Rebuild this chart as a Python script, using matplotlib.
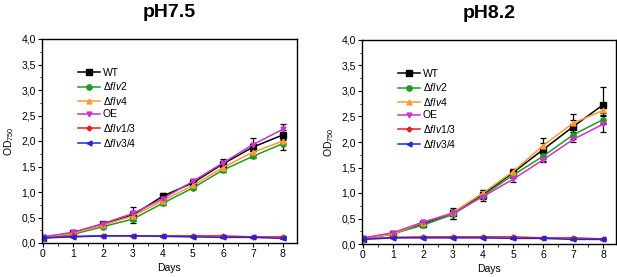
import matplotlib
matplotlib.use('Agg')
import matplotlib.pyplot as plt
from matplotlib.ticker import MultipleLocator, FuncFormatter

plt.rcParams['font.family'] = ['Liberation Sans', 'DejaVu Sans']
plt.rcParams['mathtext.fontset'] = 'custom'
plt.rcParams['mathtext.rm'] = 'Liberation Sans'
plt.rcParams['mathtext.it'] = 'Liberation Sans:italic'

days = [0, 1, 2, 3, 4, 5, 6, 7, 8]
labels = ['WT', r'$\Delta\mathit{flv2}$', r'$\Delta\mathit{flv4}$', 'OE',
          r'$\Delta\mathit{flv1/3}$', r'$\Delta\mathit{flv3/4}$']

# pH 7.5
ph75_wt = [0.10, 0.20, 0.37, 0.55, 0.92, 1.18, 1.55, 1.88, 2.12]
ph75_flv2 = [0.09, 0.17, 0.32, 0.47, 0.78, 1.08, 1.43, 1.70, 1.95]
ph75_flv4 = [0.10, 0.19, 0.35, 0.53, 0.83, 1.13, 1.48, 1.78, 2.00]
ph75_oe = [0.12, 0.21, 0.38, 0.58, 0.87, 1.21, 1.57, 1.93, 2.23]
ph75_flv13 = [0.10, 0.13, 0.14, 0.14, 0.14, 0.14, 0.14, 0.12, 0.12]
ph75_flv34 = [0.10, 0.12, 0.14, 0.14, 0.13, 0.12, 0.11, 0.11, 0.09]
ph75_err = [
    [0.02, 0.04, 0.04, 0.15, 0.06, 0.04, 0.05, 0.06, 0.10],
    [0.01, 0.02, 0.02, 0.03, 0.03, 0.03, 0.03, 0.03, 0.12],
    [0.01, 0.02, 0.02, 0.03, 0.03, 0.03, 0.03, 0.03, 0.04],
    [0.01, 0.03, 0.03, 0.05, 0.05, 0.05, 0.08, 0.12, 0.10],
    [0.01, 0.01, 0.01, 0.01, 0.01, 0.01, 0.01, 0.01, 0.01],
    [0.01, 0.01, 0.01, 0.01, 0.01, 0.01, 0.01, 0.01, 0.01],
]

# pH 8.2
ph82_wt = [0.10, 0.20, 0.40, 0.60, 0.97, 1.40, 1.85, 2.30, 2.73]
ph82_flv2 = [0.10, 0.20, 0.37, 0.58, 0.95, 1.35, 1.72, 2.14, 2.44]
ph82_flv4 = [0.10, 0.20, 0.42, 0.62, 1.00, 1.42, 1.93, 2.37, 2.62]
ph82_oe = [0.12, 0.22, 0.43, 0.60, 0.93, 1.27, 1.65, 2.05, 2.35]
ph82_flv13 = [0.10, 0.13, 0.14, 0.14, 0.14, 0.14, 0.12, 0.12, 0.10]
ph82_flv34 = [0.09, 0.12, 0.12, 0.12, 0.12, 0.11, 0.11, 0.09, 0.09]
ph82_err = [
    [0.02, 0.03, 0.05, 0.10, 0.08, 0.08, 0.22, 0.25, 0.35],
    [0.01, 0.02, 0.03, 0.08, 0.05, 0.05, 0.05, 0.05, 0.08],
    [0.01, 0.02, 0.03, 0.05, 0.05, 0.05, 0.05, 0.07, 0.05],
    [0.01, 0.02, 0.02, 0.04, 0.08, 0.05, 0.05, 0.05, 0.15],
    [0.01, 0.01, 0.01, 0.01, 0.01, 0.01, 0.01, 0.01, 0.01],
    [0.01, 0.01, 0.01, 0.01, 0.01, 0.01, 0.01, 0.01, 0.01],
]

colors = ['#000000', '#1e9e1e', '#ff9933', '#cc33cc', '#ee1c1c', '#2424d8']
markers = ['s', 'o', '^', 'v', 'D', '<']
msizes = [3.8, 3.8, 3.5, 3.5, 2.6, 3.5]

W, H = 617, 277
fig = plt.figure(figsize=(W / 100, H / 100), dpi=100)


def px_axes(left, top, right, bottom):
    return fig.add_axes([left / W, (H - bottom) / H, (right - left) / W, (bottom - top) / H])


def draw(ax, series, errs, title, xmax):
    for y, e, c, m, ms, lab in zip(series, errs, colors, markers, msizes, labels):
        ax.errorbar(days, y, yerr=e, color=c, marker=m, markersize=ms, linewidth=1.1,
                    ecolor='black', elinewidth=0.9, capsize=2, capthick=0.9, label=lab)
    ax.set_xlim(-0.03, xmax)
    ax.set_ylim(0, 4.0)
    ax.xaxis.set_major_locator(MultipleLocator(1))
    ax.xaxis.set_minor_locator(MultipleLocator(0.5))
    ax.yaxis.set_major_locator(MultipleLocator(0.5))
    ax.yaxis.set_minor_locator(MultipleLocator(0.25))
    ax.yaxis.set_major_formatter(FuncFormatter(lambda v, p: f'{v:.1f}'.replace('.', ',')))
    ax.tick_params(which='major', direction='out', length=3, width=0.8, labelsize=7.5, pad=1.5)
    ax.tick_params(which='minor', direction='out', length=1.8, width=0.6)
    for s in ax.spines.values():
        s.set_linewidth(1.0)
    ax.set_xlabel('Days', fontsize=7.5, labelpad=3)
    ax.set_ylabel(r'OD$_{\mathit{750}}$', fontsize=7.5, labelpad=4)
    ax.set_title(title, fontsize=14, fontweight='bold', pad=16)
    handles, labs = ax.get_legend_handles_labels()
    handles = [h[0] for h in handles]
    ax.legend(handles, labs, loc='upper left', bbox_to_anchor=(0.141, 0.86), frameon=False,
              fontsize=7.5, borderpad=0, borderaxespad=0, handlelength=2.1,
              handletextpad=0.3, labelspacing=0.25)


ax1 = px_axes(42, 39, 297, 243)
draw(ax1, [ph75_wt, ph75_flv2, ph75_flv4, ph75_oe, ph75_flv13, ph75_flv34], ph75_err, 'pH7.5', 8.47)

ax2 = px_axes(362, 40, 616, 244)
draw(ax2, [ph82_wt, ph82_flv2, ph82_flv4, ph82_oe, ph82_flv13, ph82_flv34], ph82_err, 'pH8.2', 8.43)

fig.savefig('out.png', dpi=100)
